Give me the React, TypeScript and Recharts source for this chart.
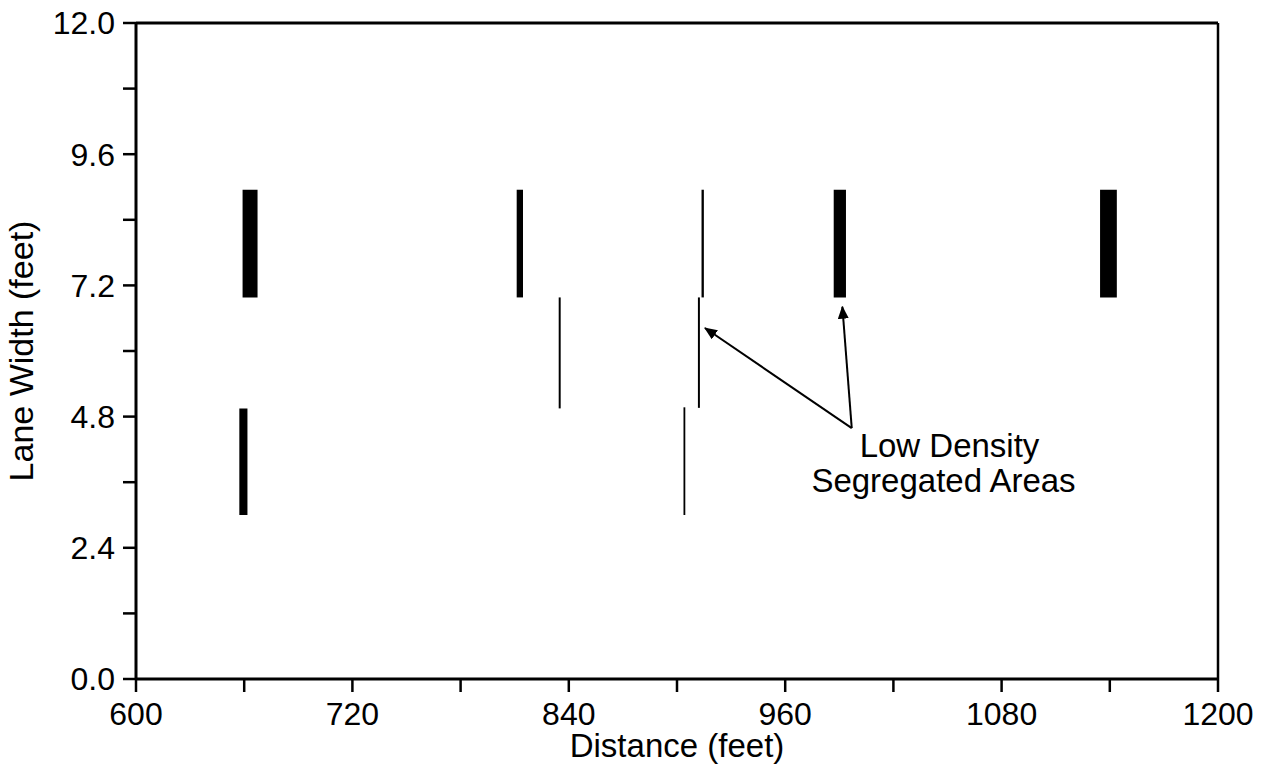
import React from 'react';
import {
  ComposedChart,
  XAxis,
  YAxis,
  Scatter,
  ReferenceArea,
  ReferenceLine,
  ReferenceDot,
  Label,
} from 'recharts';

// Tick values
const xTicks = [600, 660, 720, 780, 840, 900, 960, 1020, 1080, 1140, 1200];
const xLabelTicks = [600, 720, 840, 960, 1080, 1200];
const yTicks = [0, 1.2, 2.4, 3.6, 4.8, 6.0, 7.2, 8.4, 9.6, 10.8, 12.0];
const yLabelTicks = [0, 2.4, 4.8, 7.2, 9.6, 12.0];

// Segregated segments: distance range (feet) and lane-width range (feet)
const segDistStart = [659.1, 657.3, 811.1, 834.4, 913.6, 911.6, 903.6, 986.9, 1134.6];
const segDistEnd = [667.4, 661.8, 814.6, 835.5, 914.9, 912.7, 904.6, 993.7, 1143.9];
const segWidthLow = [6.98, 3.0, 6.98, 4.95, 6.98, 4.96, 3.0, 6.98, 6.98];
const segWidthHigh = [8.95, 4.95, 8.95, 6.98, 8.95, 6.98, 4.97, 8.95, 8.95];

// Annotation
const noteLines = ['Low Density', 'Segregated Areas'];
const noteAnchor = { x: 1050, y: 4.06 };
const arrowTail = { x: 996.9, y: 4.59 };
const arrowHeads = [
  { x: 915.5, y: 6.42 },
  { x: 991.7, y: 6.81 },
];

const FONT = '"Liberation Sans", Arial, Helvetica, sans-serif';

export default function App() {
  return (
    <div style={{ position: 'absolute', left: 0, top: 0, background: '#fff' }}>
      <ComposedChart
        width={1272}
        height={779}
        margin={{ top: 23, right: 54, bottom: 48, left: 20 }}
        style={{ fontFamily: FONT }}
      >
        <defs>
          <marker
            id="arrowhead"
            markerWidth="13"
            markerHeight="11"
            refX="12"
            refY="5.5"
            orient="auto"
            markerUnits="userSpaceOnUse"
          >
            <path d="M0,0 L13,5.5 L0,11 Z" fill="#000" />
          </marker>
        </defs>
        <XAxis
          type="number"
          dataKey="x"
          domain={[600, 1200]}
          ticks={xTicks}
          allowDataOverflow
          height={52}
          tickSize={13}
          tickMargin={10}
          interval={0}
          axisLine={{ stroke: '#000', strokeWidth: 3 }}
          tickLine={{ stroke: '#000', strokeWidth: 2.5 }}
          tick={{ fill: '#000', fontSize: 32, fontFamily: FONT }}
          tickFormatter={(v: number) => (xLabelTicks.includes(v) ? String(v) : '')}
        >
          <Label
            value="Distance (feet)"
            position="bottom"
            offset={3}
            style={{ fill: '#000', fontSize: 33, fontFamily: FONT }}
          />
        </XAxis>
        <YAxis
          type="number"
          dataKey="y"
          domain={[0, 12]}
          ticks={yTicks}
          allowDataOverflow
          width={116}
          tickSize={13}
          tickMargin={8}
          interval={0}
          axisLine={{ stroke: '#000', strokeWidth: 3 }}
          tickLine={{ stroke: '#000', strokeWidth: 2.5 }}
          tick={{ fill: '#000', fontSize: 32, fontFamily: FONT }}
          tickFormatter={(v: number) => (yLabelTicks.some((t) => Math.abs(t - v) < 1e-6) ? v.toFixed(1) : '')}
        >
          <Label
            value="Lane Width (feet)"
            angle={-90}
            position="insideLeft"
            offset={1}
            style={{ fill: '#000', fontSize: 34, fontFamily: FONT, textAnchor: 'middle' }}
          />
        </YAxis>

        <ReferenceLine y={12} stroke="#000" strokeWidth={3} ifOverflow="visible" />
        <ReferenceLine x={1200} stroke="#000" strokeWidth={2.5} ifOverflow="visible" />

        {segDistStart.map((x1, i) => (
          <ReferenceArea
            key={`seg-${i}`}
            x1={x1}
            x2={segDistEnd[i]}
            y1={segWidthLow[i]}
            y2={segWidthHigh[i]}
            fill="#000"
            fillOpacity={1}
            stroke="none"
            ifOverflow="visible"
          />
        ))}

        {arrowHeads.map((h, i) => (
          <ReferenceLine
            key={`arrow-${i}`}
            segment={[arrowTail, h]}
            ifOverflow="visible"
            stroke="#000"
            strokeWidth={2}
            shape={(p: any) => (
              <line
                x1={p.x1}
                y1={p.y1}
                x2={p.x2}
                y2={p.y2}
                stroke="#000"
                strokeWidth={2}
                markerEnd="url(#arrowhead)"
              />
            )}
          />
        ))}

        <ReferenceDot
          x={noteAnchor.x}
          y={noteAnchor.y}
          r={0}
          fill="none"
          stroke="none"
          ifOverflow="visible"
          label={{
            content: (p: any) => {
              const vb = p.viewBox || {};
              const cx = (vb.x ?? 0) + (vb.width ?? 0) / 2;
              const cy = (vb.y ?? 0) + (vb.height ?? 0) / 2;
              return (
                <g>
                  <text x={cx + 2} y={cy} textAnchor="middle" fill="#000" fontSize={33} fontFamily={FONT}>
                    {noteLines[0]}
                  </text>
                  <text x={cx - 4} y={cy + 35} textAnchor="middle" fill="#000" fontSize={33} fontFamily={FONT}>
                    {noteLines[1]}
                  </text>
                </g>
              );
            },
          }}
        />

        <Scatter data={[]} isAnimationActive={false} />
      </ComposedChart>
    </div>
  );
}
